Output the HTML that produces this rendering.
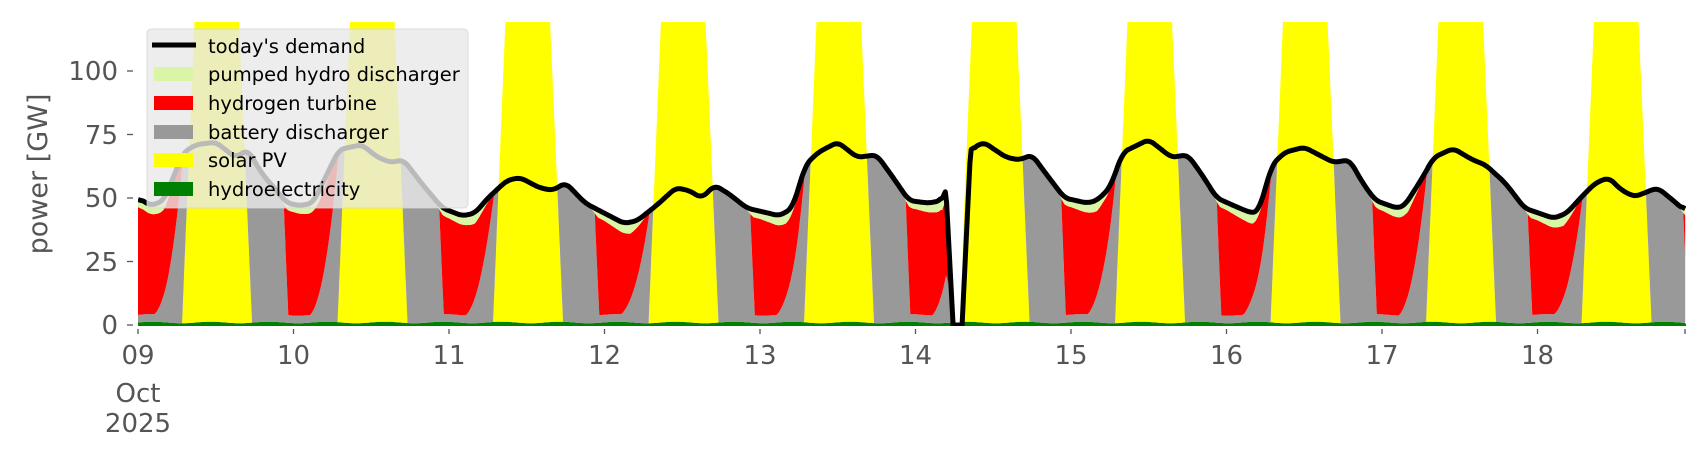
<!DOCTYPE html>
<html><head><meta charset="utf-8"><style>
html,body{margin:0;padding:0;background:#fff;}
svg{display:block;font-family:"DejaVu Sans","Liberation Sans",sans-serif;}
</style></head><body>
<svg id="s" width="1706" height="460" viewBox="0 0 1706 460" xmlns="http://www.w3.org/2000/svg">
<defs><clipPath id="cp"><rect x="138" y="22" width="1548" height="304"/></clipPath></defs>
<g id="layers" clip-path="url(#cp)"></g>
<g>
<rect x="147" y="29" width="321" height="179" rx="4" fill="#e8e8e8" fill-opacity="0.8" stroke="#d4d4d4" stroke-opacity="0.8"/>
<line x1="152" y1="45" x2="196" y2="45" stroke="#000" stroke-width="5"/>
<rect x="154" y="67" width="39" height="14" fill="#d9f5a6"/>
<rect x="154" y="96" width="39" height="14" fill="#ff0000"/>
<rect x="154" y="125" width="39" height="14" fill="#999999"/>
<rect x="154" y="153" width="39" height="14" fill="#ffff00"/>
<rect x="154" y="182" width="39" height="14" fill="#008000"/>
<g font-size="19.5" fill="#000">
<text x="208" y="53">today's demand</text>
<text x="208" y="81">pumped hydro discharger</text>
<text x="208" y="110">hydrogen turbine</text>
<text x="208" y="139">battery discharger</text>
<text x="208" y="167">solar PV</text>
<text x="208" y="196">hydroelectricity</text>
</g>
</g>
<g fill="#555" font-size="26" text-anchor="end">
<text x="118" y="334">0</text>
<text x="118" y="271">25</text>
<text x="118" y="207">50</text>
<text x="118" y="144">75</text>
<text x="118" y="80">100</text>
</g>
<g stroke="#555" stroke-width="1.3">
<line x1="127" y1="325" x2="133" y2="325"/>
<line x1="127" y1="261.5" x2="133" y2="261.5"/>
<line x1="127" y1="198" x2="133" y2="198"/>
<line x1="127" y1="134.5" x2="133" y2="134.5"/>
<line x1="127" y1="71" x2="133" y2="71"/>
</g>
<g id="xt" stroke="#555" stroke-width="1.3"></g>
<g id="xl" fill="#555" font-size="26" text-anchor="middle"></g>
<text transform="translate(47,174) rotate(-90)" text-anchor="middle" font-size="27" fill="#555">power [GW]</text>
</svg>
<script>
var X0=138, DW=155.5, Y0=325, PY=2.54;
function X(t){return X0+t/24*DW;}
function Y(v){return Y0-v*PY;}
var K=[[0,50],[2,47],[4,49],[7,68],[9,71],[12,72],[15,66],[17,69],[19,60],[23,48],
[25,47],[27,48],[31,69],[34.5,71],[37,66],[39,64],[41,65],[44,55],[47,46],
[50,43],[52,44],[54,50],[57,57],[59,58],[62,54],[64,53],[66,56],[69,48],
[75,40],[77,41],[80,47],[83,54],[85,53],[87,50],[89,55],[91,52],[94,46],
[99,43],[101,46],[103,63],[105,68],[108,72],[111,66],[114,67],[116,60],[119,49],
[122,48],[124,49],[124.7,53],[125.8,0],[127.2,0],[128.5,69],[130.5,72],[134,66],[136,65],[138,67],[140,60],[143,50],
[146.5,48],[148,49],[150,54],[152,68],[156,73],[159.5,66],[162,67],[164,60],[166.5,50],
[170,46],[172,44],[173,45],[175,63],[177,68],[180,70],[183,66],[184.5,64],[187,65],[189,56],[191,49],
[194.3,46],[195.5,47],[198,57],[200,66],[203,69.5],[206,65],[208,63],[211,56],[214,46],
[218.5,42],[220.5,44],[223,51],[225,56],[227,58],[229,53],[231,50.5],[234.5,54],[236,51],[238.8,45]];
function D0(t){for(var i=0;i<K.length-1;i++){if(t<=K[i+1][0]){var a=K[i],b=K[i+1];return a[1]+(b[1]-a[1])*(t-a[0])/(b[0]-a[0]);}}return K[K.length-1][1];}
function D(t){if(t>124&&t<129)return D0(t);var s=0,n=0;for(var j=-5;j<=5;j++){var u=t+j*0.15;if(u<0||u>238.8)continue;s+=D0(u);n++;}return s/n;}
function solar(h){if(h<6.8||h>17.6)return 0;if(h<8.9)return 130*(h-6.8)/2.1;if(h<15.4)return 130;return 130*(17.6-h)/2.2;}
function pale(h){if(h>=21.5&&h<23)return 3*(h-21.5)/1.5;if(h>=23)return 3;if(h<4)return 3+1.5*h/4;if(h<7)return 4.5*(7-h)/3;return 0;}
var T=[],L=[[],[],[],[],[],[]];
for(var t=0;t<=238.8001;t+=0.1){
 var d=D(t),h=t%24;
 var hy=Math.min(1+0.3*Math.sin(t*0.7),d);
 var s=(d<=0.01)?0:solar(h);
 var R=Math.max(0,d-hy-s);
 var P=Math.min(R,pale(h));
 var B;
 var rp=R-P;
 if(h>=7&&h<22.5)B=rp;
 else if(h>=22.5&&h<23.2)B=rp+(3-rp)*(h-22.5)/0.7;
 else if(h>=23.2||h<2.5)B=3;
 else B=3+(rp-3)*Math.pow((h-2.5)/4.5,1.5);
 B=Math.max(0,Math.min(B,rp));
 var H=rp-B;
 var c=[0,hy,hy+s,hy+s+B,hy+s+B+H,hy+s+B+H+P];
 T.push(t);for(var k=0;k<6;k++)L[k].push(c[k]);
}
var cols=["#008000","#ffff00","#999999","#ff0000","#d9f5a6"];
var g=document.getElementById("layers"),ns="http://www.w3.org/2000/svg";
for(var k=1;k<6;k++){
 var p="M";
 for(var i=0;i<T.length;i++)p+=X(T[i]).toFixed(1)+","+Y(L[k][i]).toFixed(1)+" L";
 for(var i=T.length-1;i>=0;i--)p+=X(T[i]).toFixed(1)+","+Y(L[k-1][i]).toFixed(1)+(i?" L":"");
 p+="Z";
 var e=document.createElementNS(ns,"path");e.setAttribute("d",p);e.setAttribute("fill",cols[k-1]);g.appendChild(e);
}
var gl=document.createElementNS(ns,"line");
gl.setAttribute("x1",138);gl.setAttribute("x2",1686);gl.setAttribute("y1",325);gl.setAttribute("y2",325);
gl.setAttribute("stroke","#008000");gl.setAttribute("stroke-width","2.5");g.appendChild(gl);
var p="M";
for(var i=0;i<T.length;i+=2)p+=X(T[i]).toFixed(1)+","+Y(D(T[i])).toFixed(1)+" L";
p=p.slice(0,-2);
var dl=document.createElementNS(ns,"path");dl.setAttribute("d",p);dl.setAttribute("fill","none");
dl.setAttribute("stroke","#000");dl.setAttribute("stroke-width","5");dl.setAttribute("stroke-linejoin","round");
g.appendChild(dl);
var xt=document.getElementById("xt"),xl=document.getElementById("xl");
var labs=["09","10","11","12","13","14","15","16","17","18"];
for(var i=0;i<=10;i++){
 var x=X0+i*DW;if(i==10)x=1685;
 var l=document.createElementNS(ns,"line");l.setAttribute("x1",x);l.setAttribute("x2",x);l.setAttribute("y1",329);l.setAttribute("y2",334);xt.appendChild(l);
 if(i<10){var tx=document.createElementNS(ns,"text");tx.setAttribute("x",x);tx.setAttribute("y",364);tx.textContent=labs[i];xl.appendChild(tx);}
}
var t2=document.createElementNS(ns,"text");t2.setAttribute("x",X0);t2.setAttribute("y",402);t2.textContent="Oct";xl.appendChild(t2);
var t3=document.createElementNS(ns,"text");t3.setAttribute("x",X0);t3.setAttribute("y",432);t3.textContent="2025";xl.appendChild(t3);
</script>
</body></html>
